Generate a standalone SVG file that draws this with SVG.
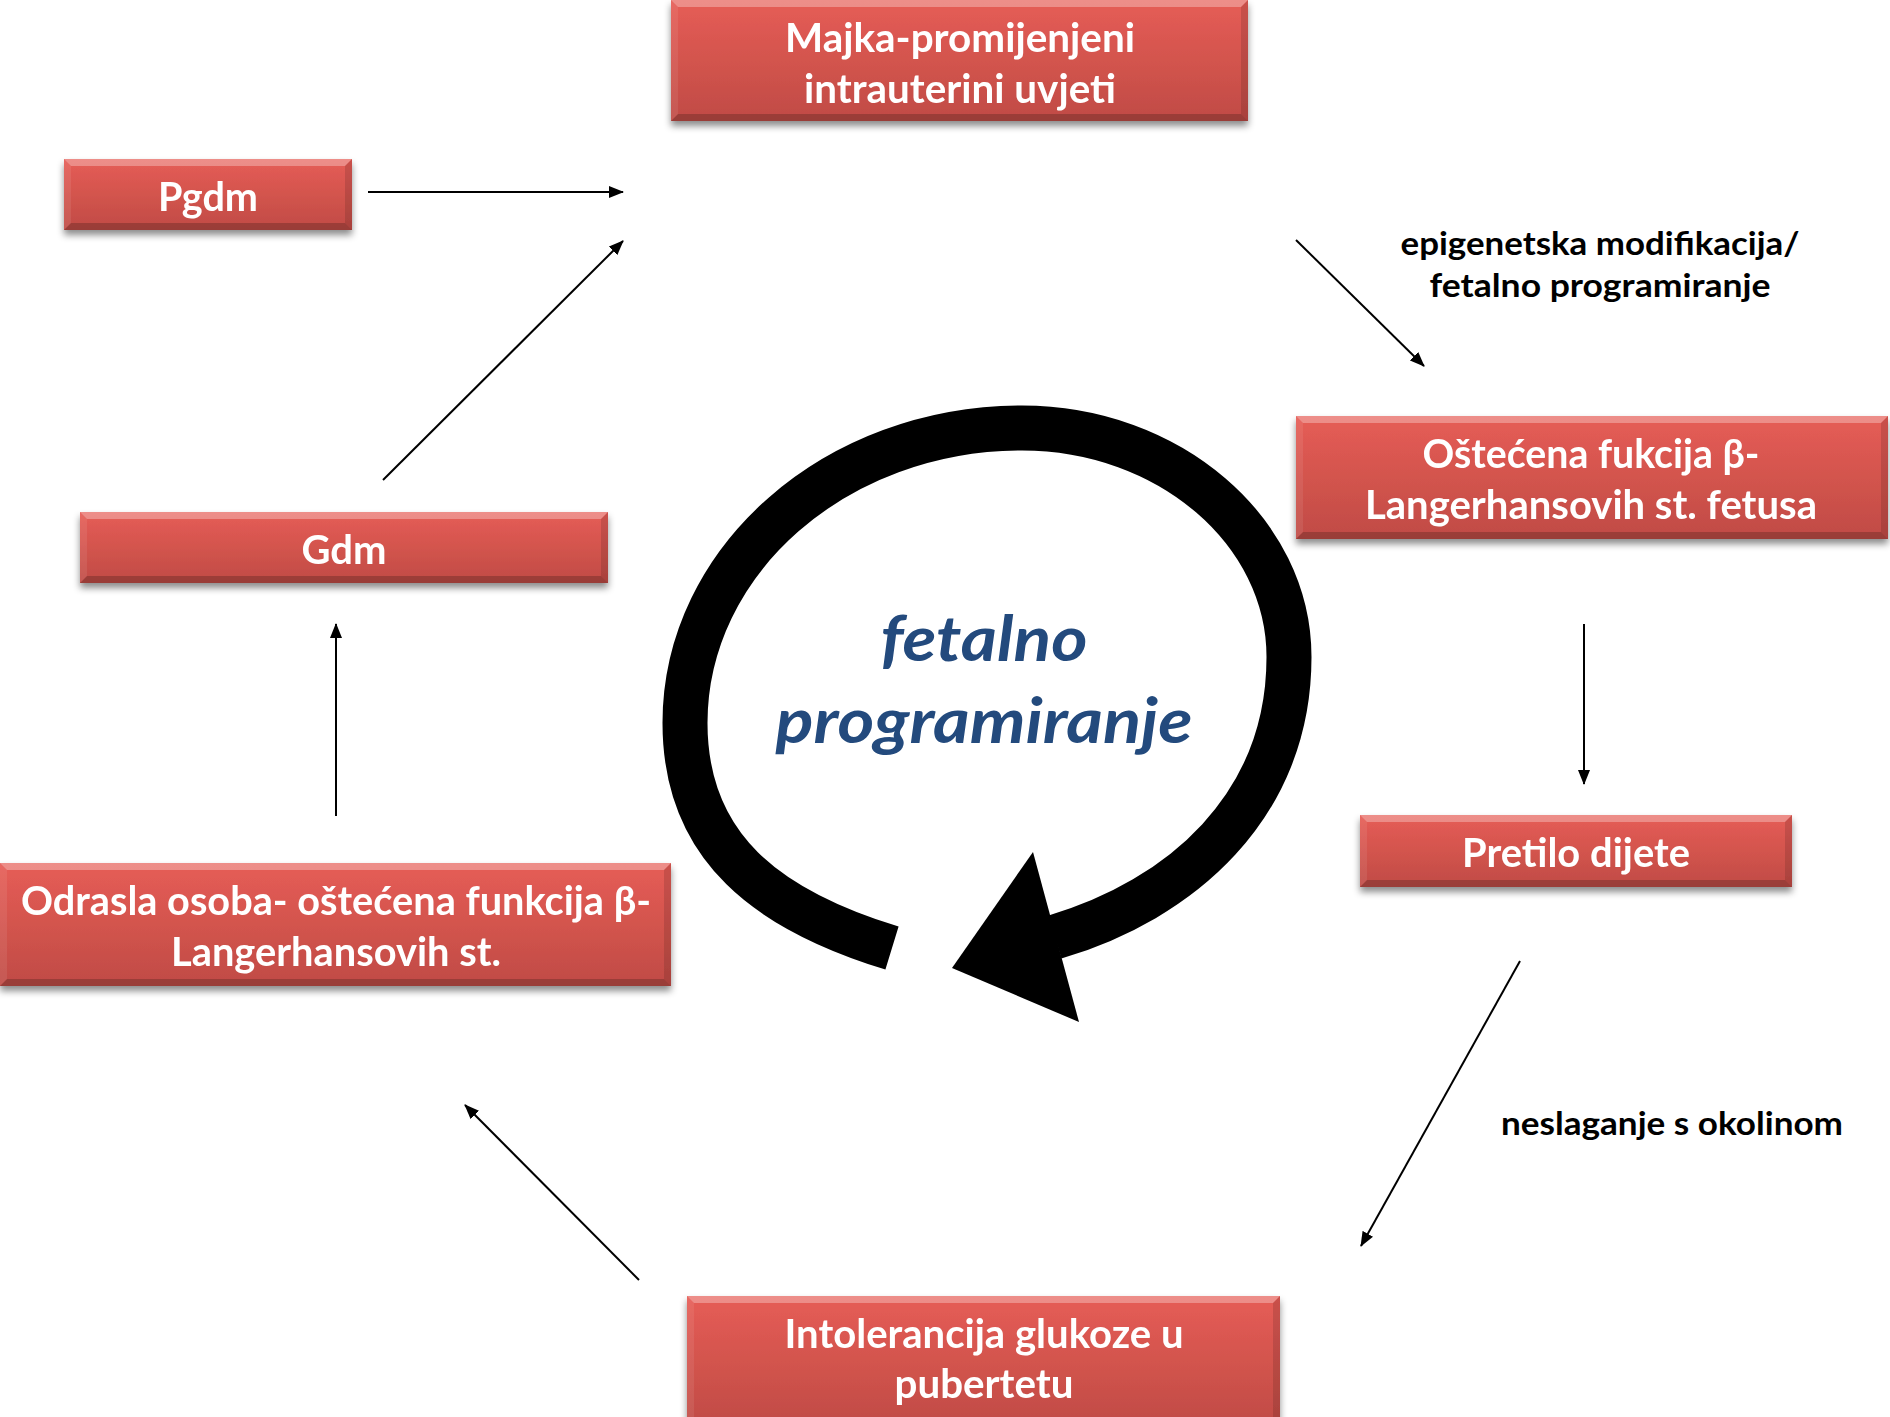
<svg xmlns="http://www.w3.org/2000/svg" width="1890" height="1417" viewBox="0 0 1890 1417">
<defs>
<linearGradient id="face" x1="0" y1="0" x2="0" y2="1">
<stop offset="0" stop-color="#e65d56"/>
<stop offset="1" stop-color="#c04b45"/>
</linearGradient>
<filter id="sh" x="-10%" y="-20%" width="120%" height="150%">
<feDropShadow dx="0" dy="5" stdDeviation="3.5" flood-color="#000" flood-opacity="0.45"/>
</filter>
<marker id="ah" markerUnits="userSpaceOnUse" markerWidth="15" markerHeight="12" refX="14" refY="6" orient="auto">
<path d="M0,0 L15,6 L0,12 z" fill="#000"/>
</marker>
</defs>
<style>
.face{fill:url(#face)}
.bt{fill:#fff;fill-opacity:0.3}
.bb{fill:#000;fill-opacity:0.2}
.bl{fill:#fff;fill-opacity:0.08}
.br{fill:#000;fill-opacity:0.12}
.bx{font-family:Lato,"Open Sans",sans-serif;font-weight:bold;font-size:40px;fill:#fff;text-anchor:middle}
.lb{font-family:Lato,"Open Sans",sans-serif;font-weight:bold;font-size:32px;fill:#000;text-anchor:middle}
.big{font-family:Lato,"Open Sans",sans-serif;font-weight:bold;font-style:italic;font-size:63px;fill:#234a7d;text-anchor:middle}
.cn{stroke:#000;stroke-width:2;fill:none;marker-end:url(#ah)}
</style>
<rect width="1890" height="1417" fill="#fff"/>

<g id="cycle">
<path d="M892,948 C768,910 685,848 685,723 C685,560 836,428 1022,428 C1169,428 1289,531 1289,657 C1289,807 1180,900 1055,937" fill="none" stroke="#000" stroke-width="45"/>
<polygon points="952,968 1033,852 1079,1022" fill="#000"/>
<text class="big" x="984" y="661" textLength="207" lengthAdjust="spacingAndGlyphs">fetalno</text>
<text class="big" x="984" y="743" textLength="417" lengthAdjust="spacingAndGlyphs">programiranje</text>
</g>

<g id="connectors">
<line class="cn" x1="368" y1="192" x2="623" y2="192"/>
<line class="cn" x1="383" y1="480" x2="623" y2="241"/>
<line class="cn" x1="336" y1="816" x2="336" y2="624"/>
<line class="cn" x1="639" y1="1280" x2="465" y2="1105"/>
<line class="cn" x1="1296" y1="240" x2="1424" y2="366"/>
<line class="cn" x1="1584" y1="624" x2="1584" y2="784"/>
<line class="cn" x1="1520" y1="961" x2="1361" y2="1246"/>
</g>

<g id="label-epigenetska">
<text class="lb" x="1600" y="255" textLength="399" lengthAdjust="spacingAndGlyphs">epigenetska modifikacija/</text>
<text class="lb" x="1600" y="297" textLength="341" lengthAdjust="spacingAndGlyphs">fetalno programiranje</text>
</g>
<g id="label-neslaganje">
<text class="lb" x="1672" y="1135" textLength="342" lengthAdjust="spacingAndGlyphs">neslaganje s okolinom</text>
</g>

<g id="n-majka" filter="url(#sh)">
<rect class="face" x="671" y="0" width="577" height="121"/>
<polygon class="bt" points="671,0 1248,0 1241,7 678,7"/>
<polygon class="bb" points="671,121 1248,121 1241,114 678,114"/>
<polygon class="bl" points="671,0 678,7 678,114 671,121"/>
<polygon class="br" points="1248,0 1241,7 1241,114 1248,121"/>
<text class="bx" x="960" y="52" textLength="350" lengthAdjust="spacingAndGlyphs">Majka-promijenjeni</text>
<text class="bx" x="960" y="103" textLength="312" lengthAdjust="spacingAndGlyphs">intrauterini uvjeti</text>
</g>

<g id="n-pgdm" filter="url(#sh)">
<rect class="face" x="64" y="159" width="288" height="71"/>
<polygon class="bt" points="64,159 352,159 345,166 71,166"/>
<polygon class="bb" points="64,230 352,230 345,223 71,223"/>
<polygon class="bl" points="64,159 71,166 71,223 64,230"/>
<polygon class="br" points="352,159 345,166 345,223 352,230"/>
<text class="bx" x="208" y="211" textLength="100" lengthAdjust="spacingAndGlyphs">Pgdm</text>
</g>

<g id="n-ostecena" filter="url(#sh)">
<rect class="face" x="1296" y="416" width="592" height="123"/>
<polygon class="bt" points="1296,416 1888,416 1881,423 1303,423"/>
<polygon class="bb" points="1296,539 1888,539 1881,532 1303,532"/>
<polygon class="bl" points="1296,416 1303,423 1303,532 1296,539"/>
<polygon class="br" points="1888,416 1881,423 1881,532 1888,539"/>
<text class="bx" x="1591" y="468" textLength="337" lengthAdjust="spacingAndGlyphs">Oštećena fukcija β-</text>
<text class="bx" x="1591" y="519" textLength="452" lengthAdjust="spacingAndGlyphs">Langerhansovih st. fetusa</text>
</g>

<g id="n-gdm" filter="url(#sh)">
<rect class="face" x="80" y="512" width="528" height="71"/>
<polygon class="bt" points="80,512 608,512 601,519 87,519"/>
<polygon class="bb" points="80,583 608,583 601,576 87,576"/>
<polygon class="bl" points="80,512 87,519 87,576 80,583"/>
<polygon class="br" points="608,512 601,519 601,576 608,583"/>
<text class="bx" x="344" y="564" textLength="85" lengthAdjust="spacingAndGlyphs">Gdm</text>
</g>

<g id="n-pretilo" filter="url(#sh)">
<rect class="face" x="1360" y="815" width="432" height="72"/>
<polygon class="bt" points="1360,815 1792,815 1785,822 1367,822"/>
<polygon class="bb" points="1360,887 1792,887 1785,880 1367,880"/>
<polygon class="bl" points="1360,815 1367,822 1367,880 1360,887"/>
<polygon class="br" points="1792,815 1785,822 1785,880 1792,887"/>
<text class="bx" x="1576" y="867" textLength="228" lengthAdjust="spacingAndGlyphs">Pretilo dijete</text>
</g>

<g id="n-odrasla" filter="url(#sh)">
<rect class="face" x="0" y="863" width="671" height="123"/>
<polygon class="bt" points="0,863 671,863 664,870 7,870"/>
<polygon class="bb" points="0,986 671,986 664,979 7,979"/>
<polygon class="bl" points="0,863 7,870 7,979 0,986"/>
<polygon class="br" points="671,863 664,870 664,979 671,986"/>
<text class="bx" x="336" y="915" textLength="630" lengthAdjust="spacingAndGlyphs">Odrasla osoba- oštećena funkcija β-</text>
<text class="bx" x="336" y="966" textLength="330" lengthAdjust="spacingAndGlyphs">Langerhansovih st.</text>
</g>

<g id="n-intolerancija" filter="url(#sh)">
<rect class="face" x="687" y="1296" width="593" height="130"/>
<polygon class="bt" points="687,1296 1280,1296 1273,1303 694,1303"/>
<polygon class="bl" points="687,1296 694,1303 694,1426 687,1426"/>
<polygon class="br" points="1280,1296 1273,1303 1273,1426 1280,1426"/>
<text class="bx" x="984" y="1348" textLength="399" lengthAdjust="spacingAndGlyphs">Intolerancija glukoze u</text>
<text class="bx" x="984" y="1398" textLength="179" lengthAdjust="spacingAndGlyphs">pubertetu</text>
</g>
</svg>
